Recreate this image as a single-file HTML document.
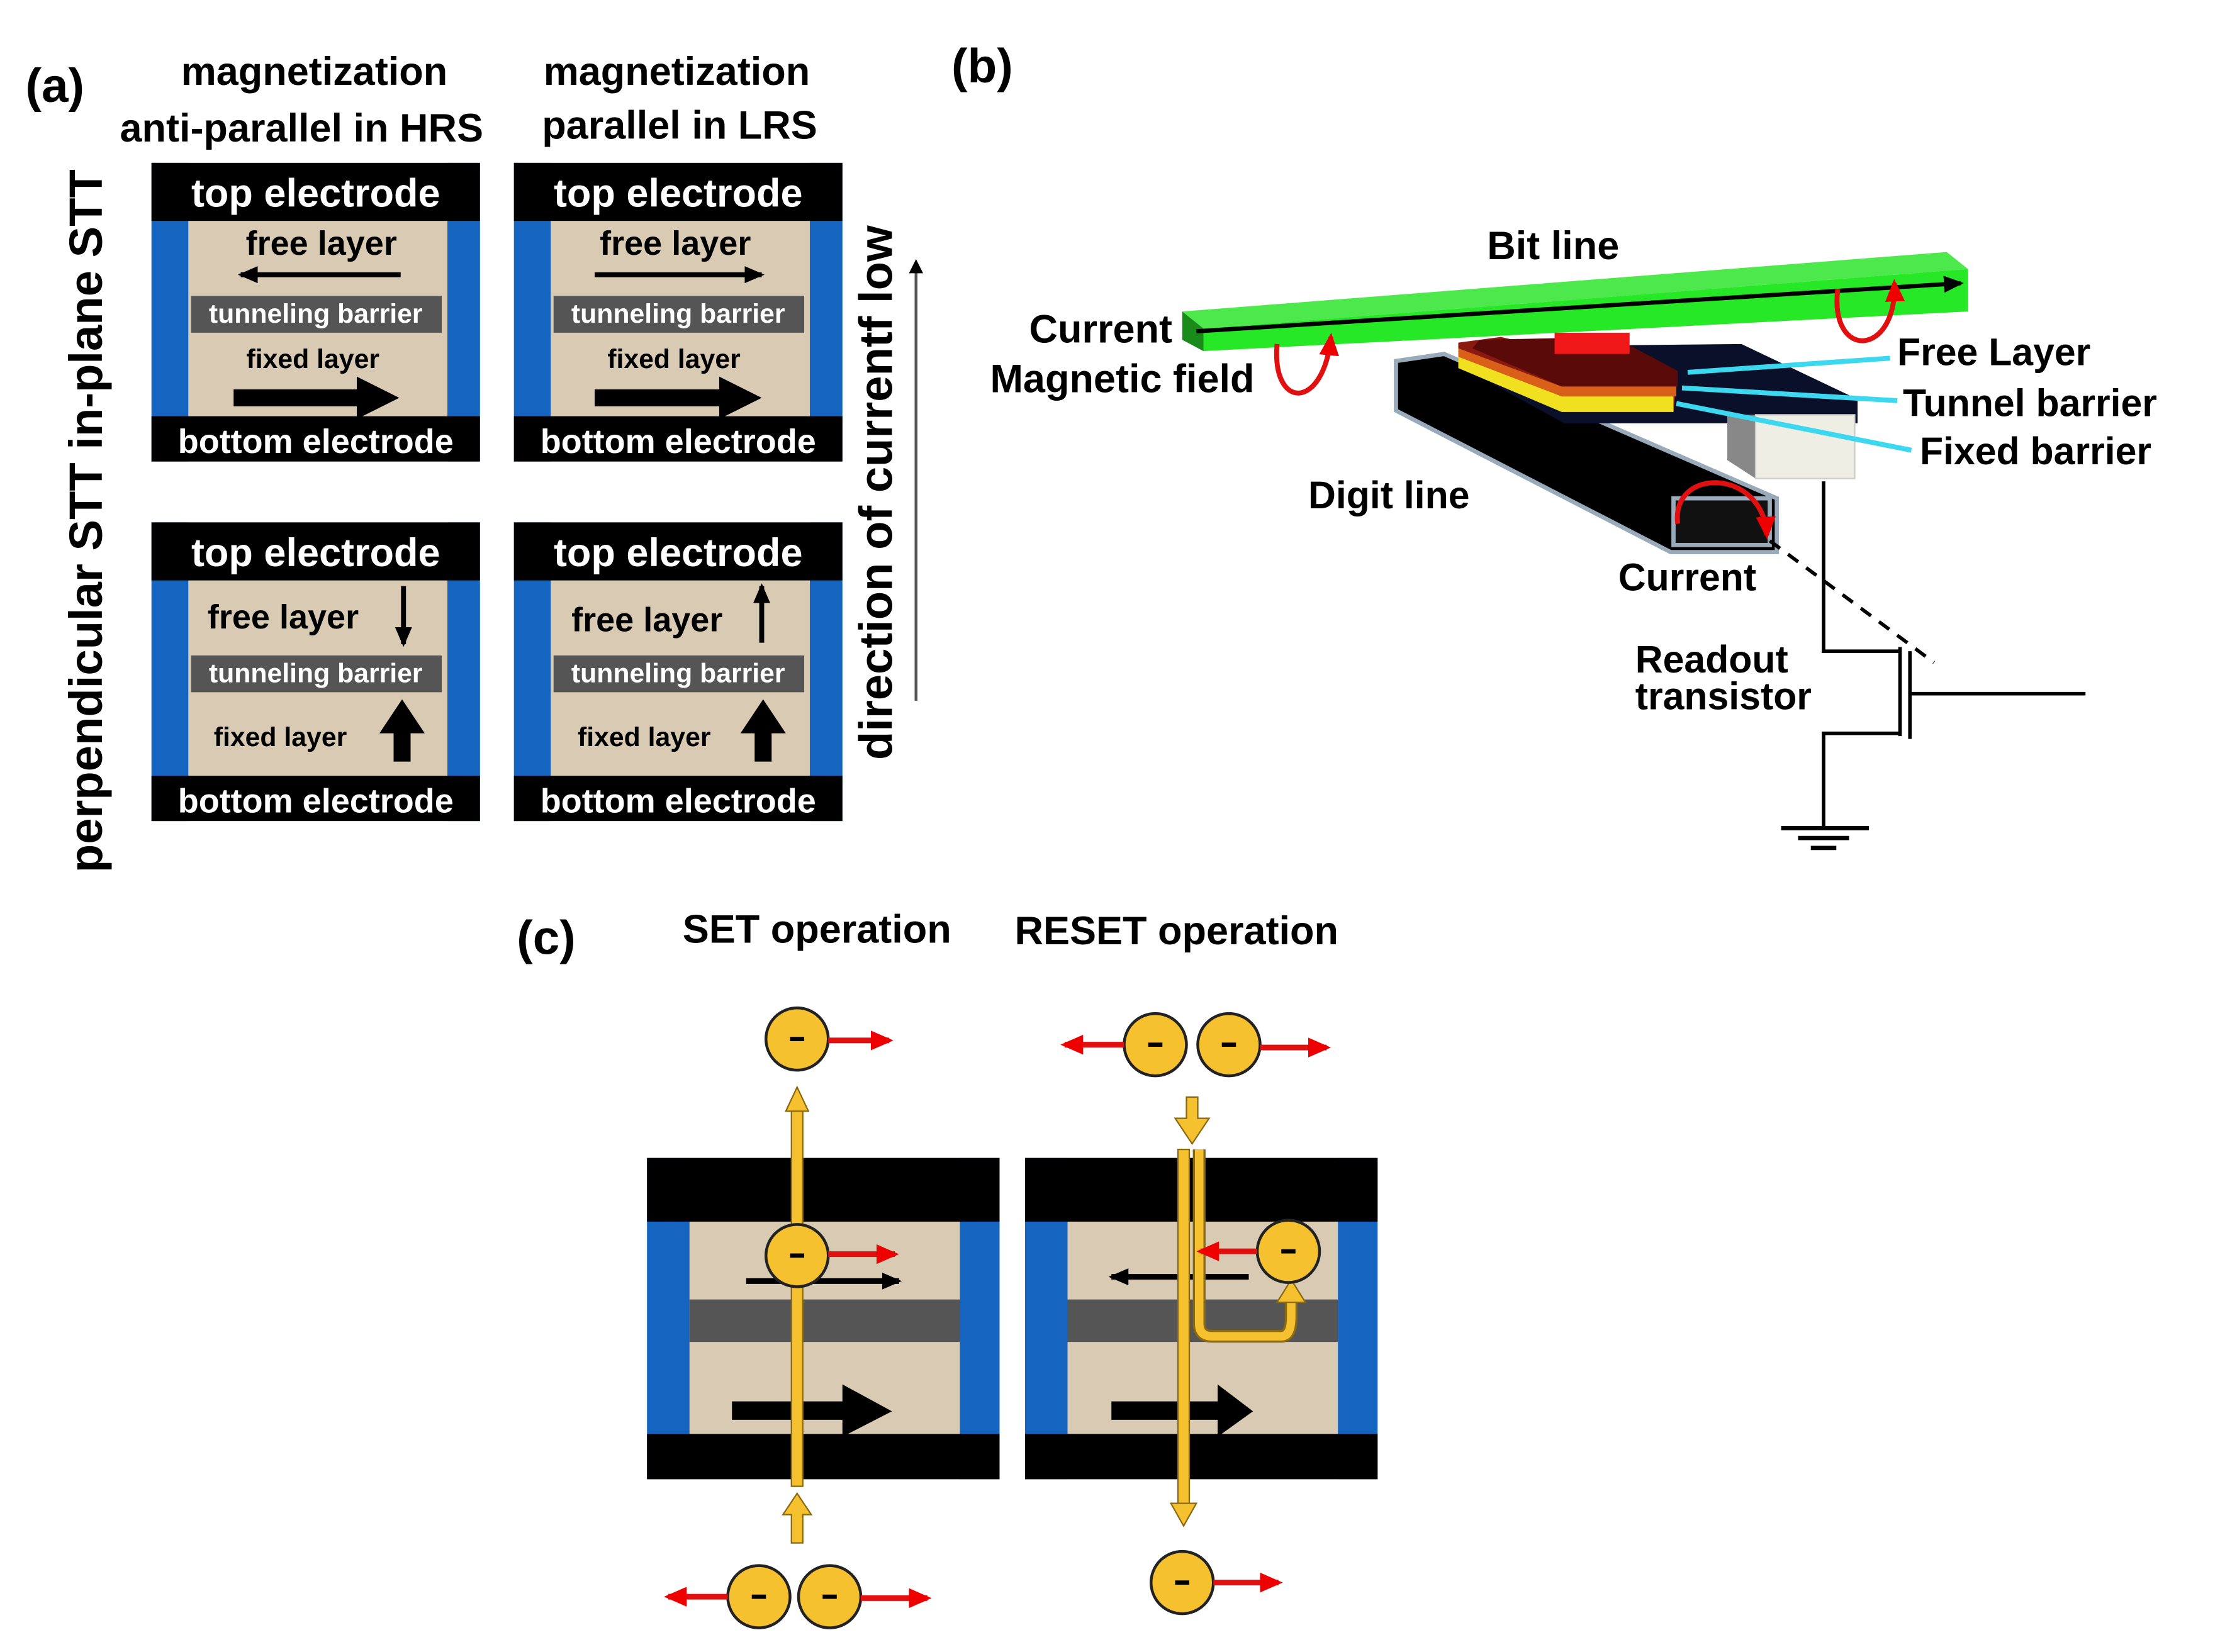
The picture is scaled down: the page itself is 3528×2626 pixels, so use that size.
<!DOCTYPE html>
<html><head><meta charset="utf-8"><style>
html,body{margin:0;padding:0;background:#fff}
svg{display:block}
text{font-family:"Liberation Sans",sans-serif;font-weight:bold}
</style></head><body>
<svg width="3528" height="2626" viewBox="0 0 1568 1167" xmlns="http://www.w3.org/2000/svg">
<defs>
<marker id="ah" markerWidth="14" markerHeight="12" refX="12" refY="6" orient="auto" markerUnits="userSpaceOnUse"><path d="M0,0 L14,6 L0,12 z" fill="#000"/></marker>
<marker id="rh" markerWidth="16" markerHeight="14" refX="13" refY="7" orient="auto" markerUnits="userSpaceOnUse"><path d="M0,0 L16,7 L0,14 z" fill="#e00"/></marker>
<g id="cell">
<rect x="0" y="0" width="232" height="211" fill="#d9cbb3"/>
<rect x="0" y="0" width="26" height="211" fill="#1565c0"/>
<rect x="209" y="0" width="23" height="211" fill="#1565c0"/>
<rect x="28" y="94" width="177" height="26" fill="#555"/>
<rect x="0" y="0" width="232" height="41" fill="#000"/>
<rect x="0" y="179" width="232" height="32" fill="#000"/>
<text x="116" y="31" font-size="28" fill="#fff" text-anchor="middle">top electrode</text>
<text x="116" y="113" font-size="19" fill="#fff" text-anchor="middle">tunneling barrier</text>
<text x="116" y="205" font-size="24" fill="#fff" text-anchor="middle">bottom electrode</text>
</g>
<g id="cc">
<rect x="0" y="0" width="249" height="227" fill="#d9cbb3"/>
<rect x="0" y="0" width="30" height="227" fill="#1565c0"/>
<rect x="221" y="0" width="28" height="227" fill="#1565c0"/>
<rect x="30" y="100" width="191" height="30" fill="#555"/>
<rect x="0" y="0" width="249" height="45" fill="#000"/>
<rect x="0" y="195" width="249" height="32" fill="#000"/>
</g>
<g id="el"><circle r="22" fill="#f5c12e" stroke="#222" stroke-width="2"/><rect x="-5" y="-1.5" width="10" height="3" fill="#000"/></g>
</defs>

<!-- Panel a -->
<text x="18" y="72" font-size="34">(a)</text>
<text x="222" y="60" font-size="28" text-anchor="middle">magnetization</text>
<text x="213" y="100" font-size="28" text-anchor="middle">anti-parallel in HRS</text>
<text x="478" y="60" font-size="28" text-anchor="middle">magnetization</text>
<text x="480" y="98" font-size="28" text-anchor="middle">parallel in LRS</text>

<use href="#cell" x="107" y="115"/>
<use href="#cell" x="363" y="115"/>
<use href="#cell" x="107" y="369"/>
<use href="#cell" x="363" y="369"/>

<text x="227" y="180" font-size="24" text-anchor="middle">free layer</text>
<line x1="283" y1="194" x2="170" y2="194" stroke="#000" stroke-width="3.5" marker-end="url(#ah)"/>
<text x="221" y="260" font-size="19" text-anchor="middle">fixed layer</text>
<polygon points="165,275 252,275 252,266 282,281 252,296 252,287 165,287" fill="#000"/>
<text x="477" y="180" font-size="24" text-anchor="middle">free layer</text>
<line x1="420" y1="194" x2="538" y2="194" stroke="#000" stroke-width="3.5" marker-end="url(#ah)"/>
<text x="476" y="260" font-size="19" text-anchor="middle">fixed layer</text>
<polygon points="420,275 508,275 508,266 538,281 508,296 508,287 420,287" fill="#000"/>

<text x="200" y="444" font-size="24" text-anchor="middle">free layer</text>
<line x1="285" y1="414" x2="285" y2="455" stroke="#000" stroke-width="3.5" marker-end="url(#ah)"/>
<text x="198" y="527" font-size="19" text-anchor="middle">fixed layer</text>
<polygon points="278,538 278,518 268,518 284,494 300,518 290,518 290,538" fill="#000"/>
<text x="457" y="446" font-size="24" text-anchor="middle">free layer</text>
<line x1="538" y1="454" x2="538" y2="414" stroke="#000" stroke-width="3.5" marker-end="url(#ah)"/>
<text x="455" y="527" font-size="19" text-anchor="middle">fixed layer</text>
<polygon points="533,538 533,518 523,518 539,494 555,518 545,518 545,538" fill="#000"/>

<text transform="translate(72,368) rotate(-90)" font-size="33" text-anchor="middle">perpendicular STT  in-plane STT</text>
<text transform="translate(630,348) rotate(-90)" font-size="33" text-anchor="middle">direction of currentf low</text>
<line x1="647" y1="495" x2="647" y2="188" stroke="#555" stroke-width="2"/>
<polygon points="642,193 647,183 652,193" fill="#000"/>

<!-- Panel b -->
<text x="672" y="58" font-size="34">(b)</text>
<text x="1097" y="183" font-size="28" text-anchor="middle">Bit line</text>
<polygon points="835,220 1375,178 1390,190 850,232" fill="#4ce84c"/>
<polygon points="850,232 1390,190 1390,220 850,248" fill="#26e826"/>
<polygon points="835,220 850,232 850,248 835,240" fill="#1a8a1a"/>
<line x1="845" y1="234" x2="1385" y2="200" stroke="#000" stroke-width="3" marker-end="url(#ah)"/>
<polygon points="986,255 1020,250 1255,352 1255,390 1180,390 986,290" fill="#000" stroke="#9ab" stroke-width="3"/>
<polygon points="1182,352 1250,352 1250,385 1182,385" fill="#111" stroke="#9ab" stroke-width="3"/>
<polygon points="1030,245 1230,243 1312,282 1312,299 1105,299 1030,258" fill="#0a0f2a"/>
<polygon points="1030,242 1060,238 1185,266 1182,291 1103,291 1030,258" fill="#8a1a10"/>
<polygon points="1030,250 1103,280 1182,280 1182,291 1103,291 1030,260" fill="#f0e020"/>
<polygon points="1030,246 1103,273 1184,273 1184,280 1103,280 1030,252" fill="#d86018"/>
<polygon points="1045,240 1140,238 1185,262 1185,273 1103,273 1040,246" fill="#5a0a08"/>
<rect x="1098" y="235" width="53" height="15" fill="#f01818"/>
<polygon points="1220,293 1240,293 1240,338 1220,325" fill="#888"/>
<rect x="1240" y="293" width="70" height="45" fill="#eeeee4" stroke="#ccc"/>
<line x1="1335" y1="253" x2="1192" y2="263" stroke="#3cd8f0" stroke-width="3.5"/>
<line x1="1340" y1="283" x2="1188" y2="274" stroke="#3cd8f0" stroke-width="3.5"/>
<line x1="1350" y1="318" x2="1184" y2="285" stroke="#3cd8f0" stroke-width="3.5"/>
<path d="M902,243 C898,290 935,290 940,238" fill="none" stroke="#e01010" stroke-width="3.5" marker-end="url(#rh)"/>
<path d="M1298,204 C1292,255 1340,252 1338,200" fill="none" stroke="#e01010" stroke-width="3.5" marker-end="url(#rh)"/>
<path d="M1185,370 C1180,330 1245,330 1248,378" fill="none" stroke="#e01010" stroke-width="3.5" marker-end="url(#rh)"/>
<text x="828" y="242" font-size="28" text-anchor="end">Current</text>
<text x="886" y="277" font-size="28" text-anchor="end">Magnetic field</text>
<text x="1340" y="258" font-size="27">Free Layer</text>
<text x="1344" y="294" font-size="27">Tunnel barrier</text>
<text x="1356" y="328" font-size="27">Fixed barrier</text>
<text x="924" y="359" font-size="27">Digit line</text>
<text x="1143" y="417" font-size="27">Current</text>
<text x="1155" y="475" font-size="27">Readout</text>
<text x="1155" y="501" font-size="27">transistor</text>
<path d="M1288,340 V460 H1342 M1342,518 H1288 V585" fill="none" stroke="#000" stroke-width="2.5"/>
<line x1="1342" y1="457" x2="1342" y2="520" stroke="#000" stroke-width="2.5"/>
<line x1="1349" y1="460" x2="1349" y2="522" stroke="#000" stroke-width="2.5"/>
<line x1="1349" y1="490" x2="1473" y2="490" stroke="#000" stroke-width="2.5"/>
<line x1="1258" y1="585" x2="1320" y2="585" stroke="#000" stroke-width="3"/>
<line x1="1270" y1="592" x2="1306" y2="592" stroke="#000" stroke-width="3"/>
<line x1="1279" y1="599" x2="1297" y2="599" stroke="#000" stroke-width="3"/>
<line x1="1250" y1="382" x2="1366" y2="468" stroke="#000" stroke-width="2.5" stroke-dasharray="9,7"/>

<!-- Panel c -->
<text x="365" y="674" font-size="34">(c)</text>
<text x="577" y="666" font-size="28" text-anchor="middle">SET operation</text>
<text x="831" y="667" font-size="28" text-anchor="middle">RESET operation</text>
<use href="#cc" x="457" y="818"/>
<use href="#cc" x="724" y="818"/>
<line x1="527" y1="905" x2="635" y2="905" stroke="#000" stroke-width="4" marker-end="url(#ah)"/>
<polygon points="517,990 595,990 595,978 630,997 595,1015 595,1003 517,1003" fill="#000"/>
<rect x="559" y="782" width="8" height="268" fill="#f5c12e" stroke="#8a6a10" stroke-width="1"/>
<polygon points="555,785 563,768 571,785" fill="#f5c12e" stroke="#8a6a10"/>
<polygon points="559,1090 559,1070 553,1070 563,1055 573,1070 567,1070 567,1090" fill="#f5c12e" stroke="#8a6a10"/>
<use href="#el" x="563" y="734"/>
<line x1="585" y1="735" x2="628" y2="735" stroke="#e01010" stroke-width="4" marker-end="url(#rh)"/>
<use href="#el" x="563" y="887"/>
<line x1="585" y1="886" x2="632" y2="886" stroke="#e01010" stroke-width="4" marker-end="url(#rh)"/>
<use href="#el" x="536" y="1128"/>
<use href="#el" x="586" y="1128"/>
<line x1="514" y1="1128" x2="472" y2="1128" stroke="#e01010" stroke-width="4" marker-end="url(#rh)"/>
<line x1="608" y1="1129" x2="655" y2="1129" stroke="#e01010" stroke-width="4" marker-end="url(#rh)"/>
<line x1="882" y1="902" x2="785" y2="902" stroke="#000" stroke-width="4" marker-end="url(#ah)"/>
<polygon points="785,990 860,990 860,978 885,997 860,1015 860,1003 785,1003" fill="#000"/>
<use href="#el" x="816" y="738"/>
<use href="#el" x="868" y="738"/>
<line x1="794" y1="738" x2="752" y2="738" stroke="#e01010" stroke-width="4" marker-end="url(#rh)"/>
<line x1="890" y1="740" x2="937" y2="740" stroke="#e01010" stroke-width="4" marker-end="url(#rh)"/>
<polygon points="838,775 846,775 846,790 854,790 842,808 830,790 838,790" fill="#f5c12e" stroke="#8a6a10"/>
<rect x="832" y="812" width="8" height="252" fill="#f5c12e" stroke="#8a6a10" stroke-width="1"/>
<polygon points="827,1062 836,1078 845,1062" fill="#f5c12e" stroke="#8a6a10"/>
<path d="M847,812 V935 Q847,944 856,944 H905 Q912,944 912,930 V918" fill="none" stroke="#8a6a10" stroke-width="9"/>
<path d="M847,812 V935 Q847,944 856,944 H905 Q912,944 912,930 V918" fill="none" stroke="#f5c12e" stroke-width="6"/>
<polygon points="902,920 912,904 922,920" fill="#f5c12e" stroke="#8a6a10"/>
<use href="#el" x="910" y="884"/>
<line x1="888" y1="884" x2="848" y2="884" stroke="#e01010" stroke-width="4" marker-end="url(#rh)"/>
<use href="#el" x="835" y="1118"/>
<line x1="857" y1="1118" x2="903" y2="1118" stroke="#e01010" stroke-width="4" marker-end="url(#rh)"/>
</svg>
</body></html>
